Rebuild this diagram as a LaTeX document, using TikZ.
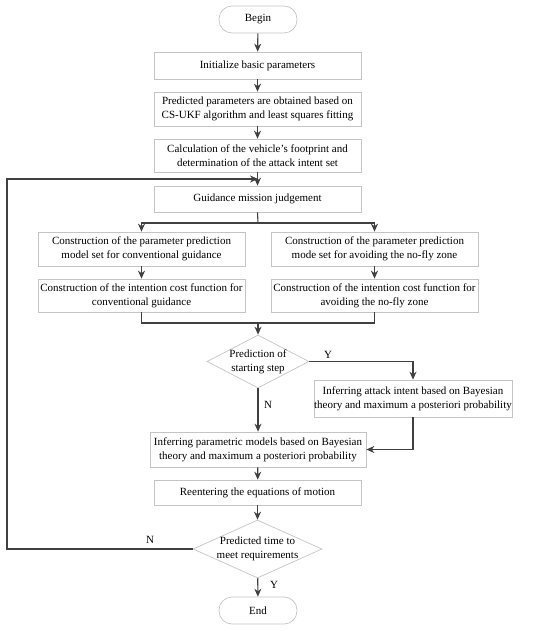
\documentclass[tikz,border=0pt]{standalone}
\usepackage{fontspec}
\setmainfont{Liberation Serif}
\usetikzlibrary{shapes.geometric,arrows.meta}
\definecolor{boxgray}{HTML}{C4C4C4}
\definecolor{linegray}{HTML}{404040}
\begin{document}
\begin{tikzpicture}[x=1pt,y=-1pt,
  base/.style={draw=boxgray, line width=0.7pt, align=center, inner sep=0pt, font=\fontsize{11}{14}\selectfont},
  box/.style={base, rectangle, minimum width=207pt},
  term/.style={base, rectangle, rounded corners=13pt, minimum width=78pt, minimum height=27pt},
  dec/.style={base, diamond, aspect=2},
  dectext/.style={align=center, inner sep=0pt, font=\fontsize{11}{14}\selectfont},
  conn/.style={draw=linegray, line width=1.1pt},
  arr/.style={conn, -{Stealth[length=8pt,width=7pt]}},
  lab/.style={font=\fontsize{11}{13}\selectfont, inner sep=0pt}]
\useasboundingbox (0,0) rectangle (550,631);
\node[term] (begin) at (258,19.5) {Begin};
\node[box, minimum height=27pt] (init) at (257.5,65.5) {Initialize basic parameters};
\node[box, minimum height=34pt] (pred) at (257.5,109) {Predicted parameters are obtained based on\\CS-UKF algorithm and least squares fitting};
\node[box, minimum height=33pt] (calc) at (257.5,155.5) {Calculation of the vehicle's footprint and\\determination of the attack intent set};
\node[box, minimum height=26pt] (guid) at (257.5,199) {Guidance mission judgement};
\node[box, minimum height=34pt] (L1) at (141.5,249) {Construction of the parameter prediction\\model set for conventional guidance};
\node[box, minimum height=34pt] (R1) at (374.5,249) {Construction of the parameter prediction\\mode set for avoiding the no-fly zone};
\node[box, minimum height=33pt] (L2) at (141.5,295.5) {Construction of the intention cost function for\\conventional guidance};
\node[box, minimum height=33pt] (R2) at (374.5,295.5) {Construction of the intention cost function for\\avoiding the no-fly zone};
\node[dec, minimum width=102pt, minimum height=53pt] (d1) at (258,361.5) {};
\node[dectext] (d1t) at (d1) {Prediction of\\starting step};
\node[box, minimum width=198pt, minimum height=37pt] (rinf) at (413,398.5) {Inferring attack intent based on Bayesian\\theory and maximum a posteriori probability};
\node[box, minimum width=216pt, minimum height=35pt] (minf) at (258,449.5) {Inferring parametric models based on Bayesian\\theory and maximum a posteriori probability};
\node[box, minimum height=25pt] (reent) at (257.5,492.5) {Reentering the equations of motion};
\node[dec, minimum width=129pt, minimum height=58pt] (d2) at (257.5,549) {};
\node[dectext] (d2t) at (d2) {Predicted time to\\meet requirements};
\node[term] (end) at (258,610.5) {End};

\draw[arr] (begin) -- (init);
\draw[arr] (init) -- (pred);
\draw[arr] (pred) -- (calc);
\draw[arr] (calc) -- (guid);
\coordinate (bj) at (258,223);
\draw[conn] (guid.south) -- (bj);
\draw[arr] (bj) -| (L1.north);
\draw[arr] (bj) -| (R1.north);
\draw[arr] (L1) -- (L2);
\draw[arr] (R1) -- (R2);
\coordinate (mj) at (258,323);
\draw[conn] (L2.south) |- (mj) -| (R2.south);
\draw[arr] (mj) -- (d1.north);
\draw[arr] (d1.east) -| (rinf.north);
\node[lab] (ly1) at (328,355) {Y};
\draw[arr] (d1.south) -- (minf.north);
\node[lab] (ln1) at (268,405) {N};
\draw[arr] (rinf.south) |- (minf.east);
\draw[arr] (minf) -- (reent);
\draw[arr] (reent) -- (d2);
\draw[arr] (d2) -- (end);
\node[lab] (ly2) at (274,585) {Y};
\coordinate (lp) at (7,179);
\coordinate (lpe) at (258,179);
\draw[arr] (d2.west) -| (lp) -- (lpe);
\node[lab] (ln2) at (150,540) {N};
\end{tikzpicture}
\end{document}
